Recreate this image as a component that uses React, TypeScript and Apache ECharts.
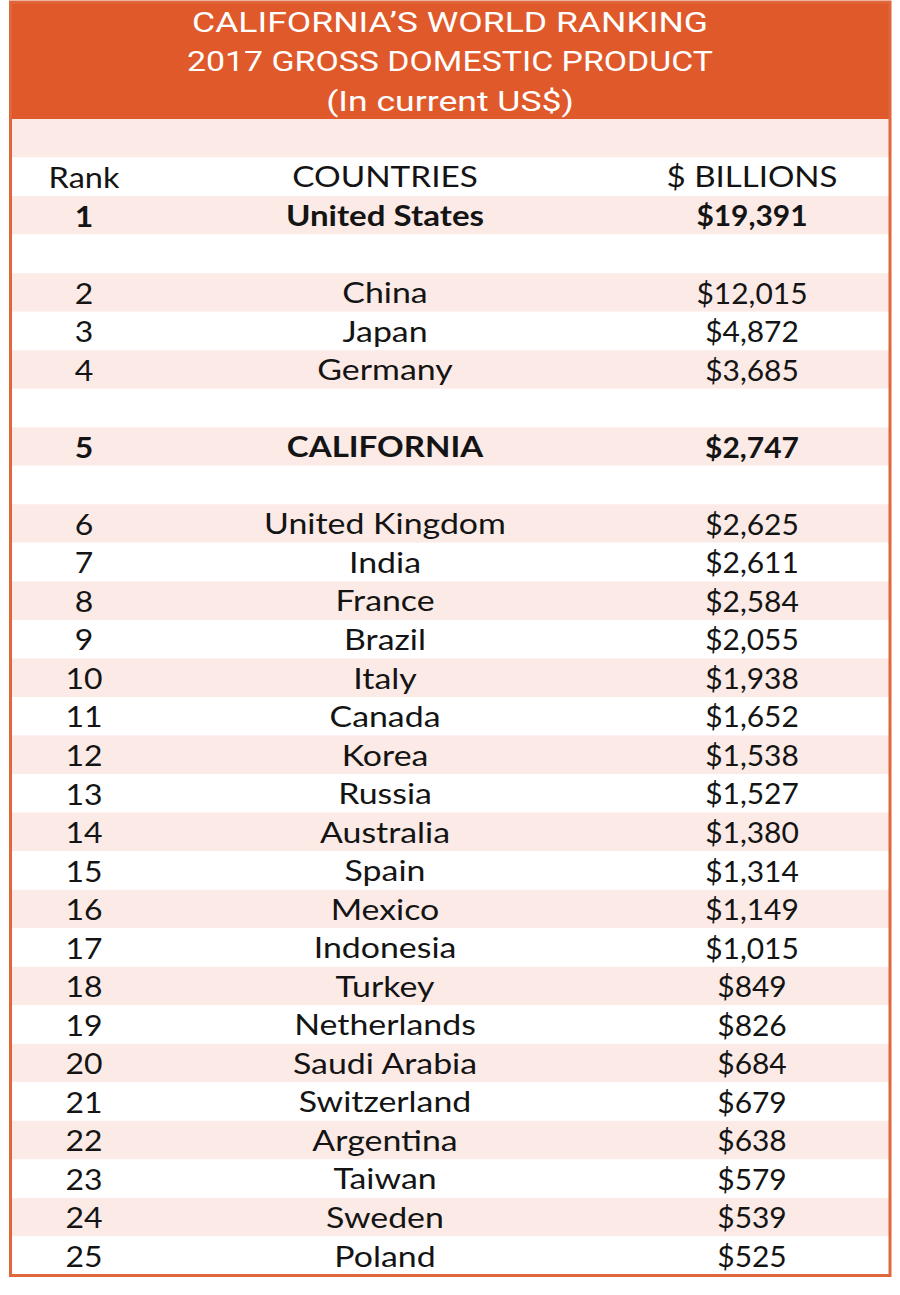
import React, { useEffect, useRef } from "react";
import * as echarts from "echarts";

const titleLines = ["CALIFORNIA’S WORLD RANKING", "2017 GROSS DOMESTIC PRODUCT", "(In current US$)"];
const headerLabels = ["Rank", "COUNTRIES", "$ BILLIONS"];
const topRanks = [1];
const topCountries = ["United States"];
const topValues = [19391];
const nextRanks = [2, 3, 4];
const nextCountries = ["China", "Japan", "Germany"];
const nextValues = [12015, 4872, 3685];
const caRank = 5;
const caName = "CALIFORNIA";
const caValue = 2747;
const restRanks = [6, 7, 8, 9, 10, 11, 12, 13, 14, 15, 16, 17, 18, 19, 20, 21, 22, 23, 24, 25];
const restCountries = [
  "United Kingdom", "India", "France", "Brazil", "Italy", "Canada", "Korea", "Russia",
  "Australia", "Spain", "Mexico", "Indonesia", "Turkey", "Netherlands", "Saudi Arabia",
  "Switzerland", "Argentina", "Taiwan", "Sweden", "Poland",
];
const restValues = [2625, 2611, 2584, 2055, 1938, 1652, 1538, 1527, 1380, 1314, 1149, 1015, 849, 826, 684, 679, 638, 579, 539, 525];

type Row = { kind: "blank" | "header" | "data"; cells: string[]; bold: boolean };

const fmt = (v: number) => "$" + v.toLocaleString("en-US");

function buildRows(): Row[] {
  const rows: Row[] = [];
  rows.push({ kind: "blank", cells: [], bold: false });
  rows.push({ kind: "header", cells: headerLabels, bold: false });
  topRanks.forEach((r, i) => rows.push({ kind: "data", cells: [String(r), topCountries[i], fmt(topValues[i])], bold: true }));
  rows.push({ kind: "blank", cells: [], bold: false });
  nextRanks.forEach((r, i) => rows.push({ kind: "data", cells: [String(r), nextCountries[i], fmt(nextValues[i])], bold: false }));
  rows.push({ kind: "blank", cells: [], bold: false });
  rows.push({ kind: "data", cells: [String(caRank), caName, fmt(caValue)], bold: true });
  rows.push({ kind: "blank", cells: [], bold: false });
  restRanks.forEach((r, i) => rows.push({ kind: "data", cells: [String(r), restCountries[i], fmt(restValues[i])], bold: false }));
  return rows;
}

const ORANGE = "#E0592A";
const BORDER = "#E0663C";
const PINK = "#FBEAE6";
const FONT = "Lato";
const colX = [84, 385, 752];
const titleScale = [1.27, 1.21, 1.27];

export default function App() {
  const ref = useRef<HTMLDivElement>(null);
  useEffect(() => {
    document.body.style.margin = "0";
    const chart = echarts.init(ref.current!, null, { renderer: "svg" });
    const rows = buildRows();
    chart.setOption({
      animation: false,
      backgroundColor: "#ffffff",
      grid: { left: 0, right: 0, top: 119, bottom: 1295 - 1275 },
      xAxis: { type: "value", min: 0, max: 900, show: false },
      yAxis: { type: "category", inverse: true, show: false, data: rows.map((_, i) => String(i)) },
      series: [
        {
          type: "custom",
          encode: { x: 0, y: 1 },
          data: rows.map((_, i) => [0, i]),
          renderItem: (params: any, api: any) => {
            const i = api.value(1);
            const row = rows[i];
            const c = api.coord([0, i]);
            const h = api.size([0, 1])[1];
            const children: any[] = [
              {
                type: "rect",
                shape: { x: 11, y: c[1] - h / 2, width: 878, height: h },
                style: { fill: i % 2 === 0 ? PINK : "#ffffff" },
              },
            ];
            row.cells.forEach((t, k) => {
              const x = api.coord([colX[k], i])[0];
              let sx = 1.2;
              if (row.kind === "data") sx = k === 0 ? 1.14 : k === 1 ? (row.bold ? 1.18 : 1.21) : 1.07;
              else sx = k === 0 ? 1.16 : k === 1 ? 1.19 : 1.18;
              children.push({
                type: "text",
                x,
                y: c[1],
                scaleX: sx,
                style: {
                  text: t,
                  x: 0,
                  y: 0,
                  align: "center",
                  verticalAlign: "middle",
                  fill: "#141414",
                  fontFamily: FONT,
                  fontSize: 28,
                  fontWeight: row.bold ? "bold" : "normal",
                },
              });
            });
            return { type: "group", children };
          },
        },
      ],
      graphic: [
        { type: "rect", z: 50, shape: { x: 10, y: 2, width: 880, height: 117 }, style: { fill: ORANGE } },
        ...titleLines.map((t, k) => ({
          type: "text",
          z: 60,
          x: 450,
          y: 22.5 + k * 39.5,
          scaleX: titleScale[k],
          style: {
            text: t,
            x: 0,
            y: 0,
            align: "center",
            verticalAlign: "middle",
            fill: "#ffffff",
            fontFamily: "Roboto",
            fontSize: 28,
            fontWeight: "normal",
          },
        })),
        {
          type: "rect",
          z: 70,
          shape: { x: 10.5, y: 2, width: 879.5, height: 1273.5 },
          style: { fill: "none", stroke: BORDER, lineWidth: 3 },
        },
      ],
    });
    return () => chart.dispose();
  }, []);
  return <div ref={ref} style={{ width: 900, height: 1295 }} />;
}
